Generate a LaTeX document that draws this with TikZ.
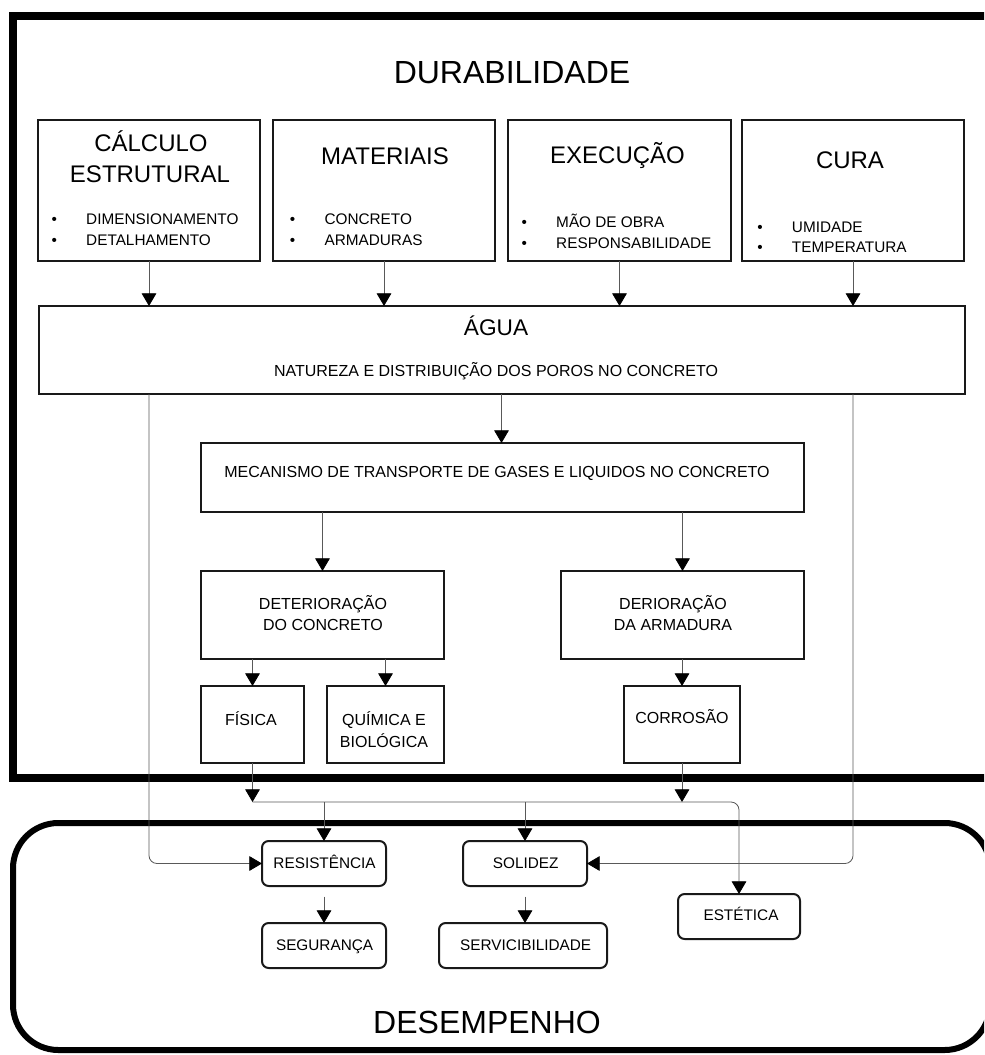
\documentclass[tikz,border=0pt]{standalone}
\usepackage{fontspec}
\setmainfont{Liberation Sans}
\usetikzlibrary{arrows.meta}
\begin{document}
\begin{tikzpicture}[x=0.75pt,y=-0.75pt,
  box/.style={draw=black!90, line width=1.5pt, inner sep=0pt, outer sep=0pt},
  rbox/.style={box, rounded corners=5pt},
  conn/.style={draw=black!65, line width=0.6pt},
  arr/.style={conn, -{Triangle[width=11pt,length=9.5pt,color=black]}},
  lbl/.style={anchor=base, inner sep=0pt, font=\fontsize{12}{14}\selectfont},
  slbl/.style={anchor=base, inner sep=0pt, font=\fontsize{11.5}{14}\selectfont},
  ttl/.style={anchor=base, inner sep=0pt, font=\fontsize{18}{21}\selectfont},
  big/.style={anchor=base, inner sep=0pt, font=\fontsize{24}{28}\selectfont},
  blist/.style={anchor=base west, inner sep=0pt, font=\fontsize{11.5}{15.5}\selectfont}
]
\useasboundingbox (0,0) rectangle (984,1055);
\clip (0,0) rectangle (984,1055);
\fill[white] (0,0) rectangle (984,1055);

% frames
\draw[line width=6pt] (13,16) rectangle (1010,778);
\draw[line width=4.5pt, rounded corners=34pt] (13,823) rectangle (990,1050);

% titles
\node[big] (tdur) at (512,83.5) {DURABILIDADE};
\node[big] (tdes) at (487,1033.3) {DESEMPENHO};

% top boxes
\node[box, minimum width=166.5pt, minimum height=105.75pt] (calc) at (149,190.5) {};
\node[box, minimum width=166.5pt, minimum height=105.75pt] (mat) at (384,190.5) {};
\node[box, minimum width=167.25pt, minimum height=105.75pt] (exec) at (619.5,190.5) {};
\node[box, minimum width=166.5pt, minimum height=105.75pt] (cura) at (853,190.5) {};

\node[ttl] (tcalc1) at (151,151.7) {CÁLCULO};
\node[ttl] (tcalc2) at (150,182.7) {ESTRUTURAL};
\node[ttl] (tmat) at (385,165) {MATERIAIS};
\node[ttl] (texec) at (617.5,163.3) {EXECUÇÃO};
\node[ttl] (tcura) at (850,168.3) {CURA};

\node[blist] (lcalc) at (51.3,225) {\begin{tabular}[t]{@{}p{26pt}@{}l@{}}•&DIMENSIONAMENTO\\•&DETALHAMENTO\end{tabular}};
\node[blist] (lmat) at (289.6,225) {\begin{tabular}[t]{@{}p{26pt}@{}l@{}}•&CONCRETO\\•&ARMADURAS\end{tabular}};
\node[blist] (lexec) at (521.3,227.7) {\begin{tabular}[t]{@{}p{26pt}@{}l@{}}•&MÃO DE OBRA\\•&RESPONSABILIDADE\end{tabular}};
\node[blist] (lcura) at (757,232.3) {\begin{tabular}[t]{@{}p{26pt}@{}l@{}}•&UMIDADE\\•&TEMPERATURA\end{tabular}};

% agua
\node[box, minimum width=694.5pt, minimum height=66pt] (agua) at (501.5,350) {};
\node[anchor=base, inner sep=0pt, font=\fontsize{17}{20}\selectfont] (tagua) at (496,335) {ÁGUA};
\node[lbl] (tnat) at (496,376.5) {NATUREZA E DISTRIBUIÇÃO DOS POROS NO CONCRETO};

% mecanismo
\node[box, minimum width=452.25pt, minimum height=51.75pt] (mec) at (502.5,477.5) {};
\node[lbl] (tmec) at (497,477.3) {MECANISMO DE TRANSPORTE DE GASES E LIQUIDOS NO CONCRETO};

% deterioration
\node[box, minimum width=182.25pt, minimum height=66pt] (det) at (322.5,615) {};
\node[box, minimum width=182.25pt, minimum height=66pt] (deri) at (682.5,615) {};
\node[lbl] (tdet1) at (323,609.3) {DETERIORAÇÃO};
\node[lbl] (tdet2) at (323,630) {DO CONCRETO};
\node[lbl] (tderi1) at (673,609.3) {DERIORAÇÃO};
\node[lbl] (tderi2) at (673,630) {DA ARMADURA};

\node[box, minimum width=77.25pt, minimum height=57.75pt] (fis) at (252.5,724.5) {};
\node[box, minimum width=87.75pt, minimum height=57.75pt] (qui) at (385.5,724.5) {};
\node[box, minimum width=87pt, minimum height=57.75pt] (cor) at (682,724.5) {};
\node[lbl] (tfis) at (251,725) {FÍSICA};
\node[lbl] (tqui1) at (384,725) {QUÍMICA E};
\node[lbl] (tqui2) at (384,747.7) {BIOLÓGICA};
\node[lbl] (tcor) at (682,723.3) {CORROSÃO};

% desempenho boxes
\node[rbox, minimum width=93pt, minimum height=33.75pt] (res) at (324,863.5) {};
\node[rbox, minimum width=93pt, minimum height=33.75pt] (sol) at (525,863.5) {};
\node[rbox, minimum width=93pt, minimum height=33.75pt] (seg) at (324,945.5) {};
\node[rbox, minimum width=126pt, minimum height=33.75pt] (serv) at (523,945.5) {};
\node[rbox, minimum width=91.5pt, minimum height=33.75pt] (est) at (739,916.5) {};
\node[slbl] (tres) at (324.6,868.3) {RESISTÊNCIA};
\node[slbl] (tsol) at (525.7,868.3) {SOLIDEZ};
\node[slbl] (tseg) at (324.6,950.7) {SEGURANÇA};
\node[slbl] (tserv) at (525.7,950.7) {SERVICIBILIDADE};
\node[slbl] (test) at (741,920.7) {ESTÉTICA};

% connectors
\draw[arr] (calc.south) -- (calc.south |- agua.north);
\draw[arr] (mat.south) -- (mat.south |- agua.north);
\draw[arr] (exec.south) -- (exec.south |- agua.north);
\draw[arr] (cura.south) -- (cura.south |- agua.north);
\draw[arr] (agua.south) -- (agua.south |- mec.north);
\draw[arr] (det.north |- mec.south) -- (det.north);
\draw[arr] (deri.north |- mec.south) -- (deri.north);
\draw[arr] (fis.north |- det.south) -- (fis.north);
\draw[arr] (qui.north |- det.south) -- (qui.north);
\draw[arr] (cor.north |- deri.south) -- (cor.north);

\coordinate (bus) at (252.5,802);
\draw[arr] (fis.south) -- (bus);
\draw[arr] (cor.south) -- (cor.south |- bus);
\draw[arr, rounded corners=6pt] (bus) -| (est.north);
\draw[arr] (res.north |- bus) -- (res.north);
\draw[arr] (sol.north |- bus) -- (sol.north);
\draw[arr, rounded corners=6pt] (calc.south |- agua.south) |- (res.west);
\draw[arr, rounded corners=6pt] (cura.south |- agua.south) |- (sol.east);
\draw[arr] ([yshift=-8pt]res.south) -- (seg.north);
\draw[arr] ([yshift=-8pt]sol.south) -- (sol.south |- seg.north);
\end{tikzpicture}
\end{document}
